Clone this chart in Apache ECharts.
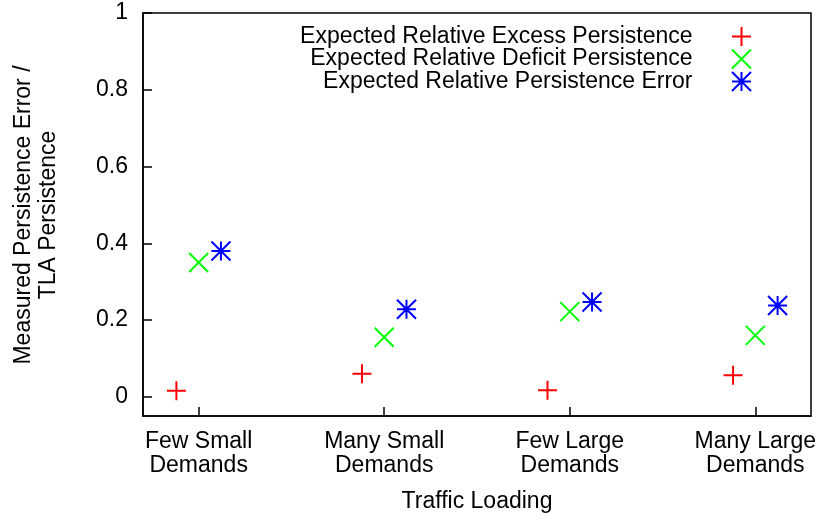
<!DOCTYPE html>
<html>
<head>
<meta charset="utf-8">
<script src="https://cdn.jsdelivr.net/npm/echarts@6/dist/echarts.min.js"></script>
<style>
  html, body { margin: 0; padding: 0; background: #fff; }
  #chart { width: 816px; height: 513px; }
</style>
</head>
<body>
<div id="chart"></div>
<script>
// Traffic loading scenarios (one group of markers per scenario)
const categories = ['Few Small\nDemands', 'Many Small\nDemands', 'Few Large\nDemands', 'Many Large\nDemands'];
// Measured persistence error relative to TLA persistence
const excessPersistence  = [0.016, 0.060, 0.017, 0.056];
const deficitPersistence = [0.350, 0.155, 0.222, 0.160];
const persistenceError   = [0.380, 0.228, 0.247, 0.238];
const yTicks = [0, 0.2, 0.4, 0.6, 0.8, 1];
const seriesNames = [
  'Expected Relative Excess Persistence',
  'Expected Relative Deficit Persistence',
  'Expected Relative Persistence Error'
];

const FONT = 'Liberation Sans, Arial, Helvetica, sans-serif';
const FS = 23;

// gnuplot-like point glyphs drawn as stroked paths
const PLUS = 'path://M0,10L20,10M10,0L10,20';
const CROSS = 'path://M0,0L20,20M20,0L0,20';
const STAR = 'path://M0,10L20,10M10,0L10,20M0,0L20,20M20,0L0,20';

const catIndex = categories.map((_, i) => i + 1);
const groupShift = [-0.12, 0, 0.12];

function points(values, k) {
  return values.map((v, i) => [catIndex[i] + groupShift[k], v]);
}

const specs = [
  { values: excessPersistence, symbol: PLUS, color: '#ff0000' },
  { values: deficitPersistence, symbol: CROSS, color: '#00ff00' },
  { values: persistenceError, symbol: STAR, color: '#0000ff' }
];

const series = specs.map((s, k) => ({
  name: seriesNames[k],
  type: 'scatter',
  data: points(s.values, k),
  symbol: s.symbol,
  symbolSize: 19,
  symbolKeepAspect: true,
  silent: true,
  itemStyle: { color: s.color, borderColor: s.color, borderWidth: 2, opacity: 1 },
  emphasis: { disabled: true }
}));

// one legend block per series so the glyphs line up on the right
const legends = seriesNames.map((name, k) => ({
  data: [name],
  right: 64,
  top: 25 + k * 22.5,
  align: 'right',
  orient: 'vertical',
  itemWidth: 20,
  itemHeight: 19,
  padding: 0,
  selectedMode: false,
  textStyle: { fontFamily: FONT, fontSize: FS, color: '#000', padding: [0, 34, 0, 0] }
}));

const chart = echarts.init(document.getElementById('chart'), null, { renderer: 'canvas' });
chart.setOption({
  animation: false,
  backgroundColor: '#fff',
  textStyle: { fontFamily: FONT },
  legend: legends,
  grid: {
    left: 143, right: 5, top: 13, bottom: 97,
    outerBoundsMode: 'none',
    containLabel: false,
    show: true, borderColor: '#000', borderWidth: 1.5, backgroundColor: 'transparent'
  },
  xAxis: {
    type: 'value',
    min: 0.7,
    max: 4.3,
    name: 'Traffic Loading',
    nameLocation: 'middle',
    nameGap: 74,
    nameTextStyle: { fontFamily: FONT, fontSize: FS, color: '#000' },
    axisLine: { show: true, onZero: false, lineStyle: { color: '#000', width: 1.5 } },
    axisTick: { show: true, inside: true, length: 9, customValues: catIndex, lineStyle: { color: '#000', width: 1.5 } },
    axisLabel: {
      customValues: catIndex,
      formatter: v => categories[Math.round(v) - 1],
      fontFamily: FONT, fontSize: FS, color: '#000', lineHeight: 24, margin: 14
    },
    splitLine: { show: false }
  },
  yAxis: {
    type: 'value',
    min: -0.05,
    max: 1,
    axisLine: { show: true, onZero: false, lineStyle: { color: '#000', width: 1.5 } },
    axisTick: { show: true, inside: true, length: 9, customValues: yTicks, lineStyle: { color: '#000', width: 1.5 } },
    axisLabel: {
      customValues: yTicks,
      formatter: v => String(+v.toFixed(1)),
      fontFamily: FONT, fontSize: FS, color: '#000', margin: 15
    },
    splitLine: { show: false }
  },
  graphic: [{
    type: 'text',
    x: 36,
    y: 215,
    rotation: Math.PI / 2,
    style: {
      text: 'Measured Persistence Error /\nTLA Persistence',
      font: FS + 'px ' + FONT,
      fill: '#000',
      align: 'center',
      verticalAlign: 'middle',
      lineHeight: 25
    }
  }],
  series: series
});
</script>
</body>
</html>
